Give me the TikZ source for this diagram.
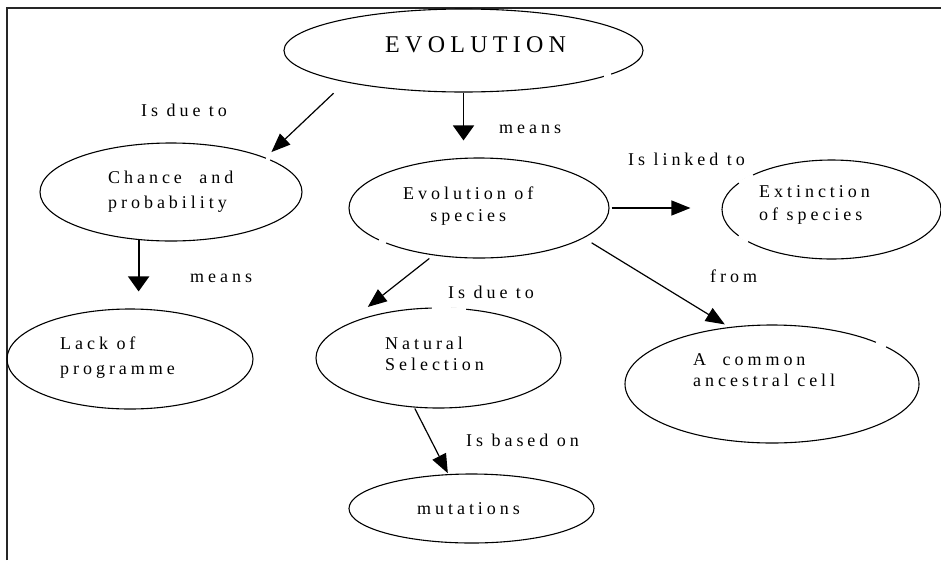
\documentclass[tikz,border=0pt]{standalone}
\usepackage{fontspec}
\setmainfont{Liberation Serif}
\newfontfamily\spaced[LetterSpace=22]{Liberation Serif}
\usetikzlibrary{arrows.meta,shapes.geometric}

% two-line labels: #1 = baseline distance, first line's baseline is the node's base
\newcommand\lpair[3]{\fontsize{18}{#1}\selectfont\begin{tabular}[t]{@{}l@{}}#2\\#3\end{tabular}}
\newcommand\cpair[3]{\fontsize{18}{#1}\selectfont\begin{tabular}[t]{@{}c@{}}#2\\#3\end{tabular}}

\tikzset{
  bubble/.style={draw, ellipse, line width=1.1pt, inner sep=0pt},
  lbl/.style={anchor=base west, inner sep=0pt, font=\spaced\fontsize{18}{22}\selectfont},
  link/.style={line width=1.2pt, -{Triangle[length=19pt,width=15pt]}},
  drop/.style={line width=1.8pt, -{Triangle[length=15pt,width=21pt]}},
  frame/.style={line width=2pt, draw=black!85},
  gap/.style={draw=white, line width=3pt}
}

\begin{document}
\begin{tikzpicture}[x=1pt, y=-1pt]
\useasboundingbox (0,0) rectangle (941,560);

% open frame: left and top edges
\coordinate (fb) at (7,560);
\coordinate (fc) at (7,7.5);
\coordinate (fr) at (941,7.5);
\draw[frame] (fb) -- (fc) -- (fr);

% concept ellipses
\node[bubble, minimum width=359pt, minimum height=83pt]  (evo)    at (463.5,50.5) {};
\node[bubble, minimum width=262pt, minimum height=98pt]  (chance) at (171,192)    {};
\node[bubble, minimum width=260pt, minimum height=100pt] (sp)     at (479,208)    {};
\node[bubble, minimum width=219pt, minimum height=99pt]  (ext)    at (831.5,209.5){};
\node[bubble, minimum width=246pt, minimum height=100pt] (lack)   at (130,359)    {};
\node[bubble, minimum width=245pt, minimum height=100pt] (nat)    at (438.5,358)  {};
\node[bubble, minimum width=245pt, minimum height=69pt]  (mut)    at (471.5,508.5){};
\node[bubble, minimum width=294pt, minimum height=118pt] (com)    at (772,384)    {};

% small breaks in the outlines
\draw[gap] (604,76) -- (611,74.3);
\draw[gap] (266,158.3) -- (270,160);
\draw[gap] (379,240) -- (386,243);
\draw[gap] (739,183) -- (753,175);
\draw[gap] (739,235.5) -- (748,241.5);
\draw[gap] (876,342.3) -- (886,346.8);
\draw[gap] (432,308) -- (466,309.3);

% concept texts
\node[lbl, font=\spaced\fontsize{24}{28}\selectfont] (tevo) at (385,52.7) {EVOLUTION};
\node[lbl] (tchance) at (108,183.3) {\lpair{24.7}{Chance\hspace{9pt} and}{probability}};
\node[lbl] (tsp)     at (403,199.3) {\cpair{22.4}{Evolution of}{species}};
\node[lbl] (text)    at (759,197.3) {\lpair{22.7}{Extinction}{of species}};
\node[lbl] (tlack)   at (60,349.3)  {\lpair{24.7}{Lack of}{programme}};
\node[lbl] (tnat)    at (385,349.3) {\lpair{21.4}{Natural}{Selection}};
\node[lbl] (tcom)    at (693,365)   {\lpair{21.7}{A\hspace{8pt} common}{ancestral cell}};
\node[lbl] (tmut)    at (417,514)   {mutations};

% link labels
\node[lbl] (l1) at (141,116.5) {Is due to};
\node[lbl] (l2) at (499,133)   {means};
\node[lbl] (l3) at (628,165)   {Is linked to};
\node[lbl] (l4) at (190,282.5) {means};
\node[lbl] (l5) at (710,282.5) {from};
\node[lbl] (l6) at (448,298)   {Is due to};
\node[lbl] (l7) at (466,446.5) {Is based on};

% connectors
\draw[link, shorten <=16pt, shorten >=8pt] (evo.195) -- (chance.20.6);
\draw[drop, shorten >=17pt] (evo.south) -- (evo.south |- sp.north);
\draw[drop, shorten >=17pt] (chance.236) -- (chance.236 |- lack.north);
\draw[link, shorten <=2pt, shorten >=31pt] (sp.east) -- (sp.east -| ext.west);
\draw[link, shorten <=5pt, shorten >=30pt] (sp.226.8) -- (nat.161.6);
\draw[link, shorten <=9pt, shorten >=5pt] (sp.344.7) -- (com.127.9);
\draw[link, shorten <=1pt, shorten >=1pt] (nat.244.4) -- (mut.124.6);
\end{tikzpicture}
\end{document}
